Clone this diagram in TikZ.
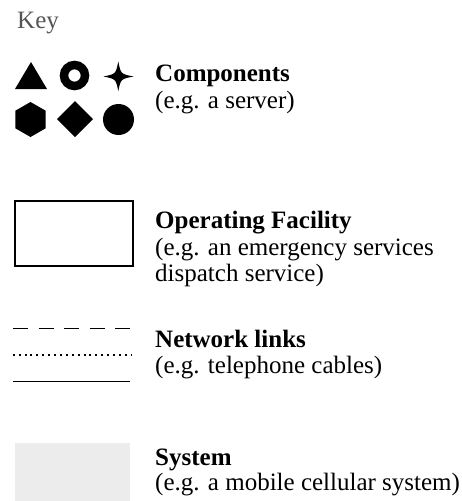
\documentclass[tikz,border=0pt]{standalone}
\usepackage{fontspec}
\setmainfont{Liberation Serif}
\definecolor{keygray}{HTML}{555555}
\definecolor{sysgray}{HTML}{ECECEC}
\tikzset{
  lbl/.style={anchor=base west, inner sep=0pt, font=\fontsize{25}{27}\selectfont},
  head/.style={lbl, font=\fontsize{25}{27}\selectfont\bfseries},
  shp/.style={fill=black, draw=none},
  lnk/.style={line width=1pt}
}
\begin{document}
\begin{tikzpicture}[x=1pt,y=-1pt]
\useasboundingbox (0,0) rectangle (462,501);
% title
\node[lbl, text=keygray] (key) at (17,28) {Key};
% components
\fill[shp] (15,89) -- (47,89) -- (31,62) -- cycle;
\draw[line width=8.5pt] (74.5,75.5) circle (10.5);
\fill[shp] (118.3,61.5) .. controls (120.8,74) .. (133.5,76.5)
  .. controls (120.8,79) .. (118.3,91)
  .. controls (115.8,79) .. (103.5,76.5)
  .. controls (115.8,74) .. cycle;
\fill[shp] (30.5,102) -- (45.7,110.75) -- (45.7,128.25) -- (30.5,137) -- (15.3,128.25) -- (15.3,110.75) -- cycle;
\fill[shp] (75,101) -- (93,119) -- (75,137) -- (57,119) -- cycle;
\fill[shp] (118.5,119.5) circle (15.5);
\node[head] (comp) at (155,81) {Components};
\node[lbl] (compex) at (155,108) {(e.g. a server)};
% operating facility
\draw[line width=2pt] (15,201) rectangle (133,266);
\node[head] (fac) at (155,228) {Operating Facility};
\node[lbl] (facex1) at (155,255) {(e.g. an emergency services};
\node[lbl] (facex2) at (155,281) {dispatch service)};
% network links
\draw[lnk, dash pattern=on 15pt off 10.5pt] (13,328) -- (130,328);
\draw[line width=2pt, dash pattern=on 2pt off 3.9pt] (12.7,355) -- (132,355);
\draw[lnk] (13,381) -- (130,381);
\node[head] (net) at (155,347) {Network links};
\node[lbl] (netex) at (155,373) {(e.g. telephone cables)};
% system
\fill[sysgray] (15,443) rectangle (130,501);
\node[head] (sys) at (155,465) {System};
\node[lbl] (sysex) at (155,490) {(e.g. a mobile cellular system)};
\end{tikzpicture}
\end{document}
